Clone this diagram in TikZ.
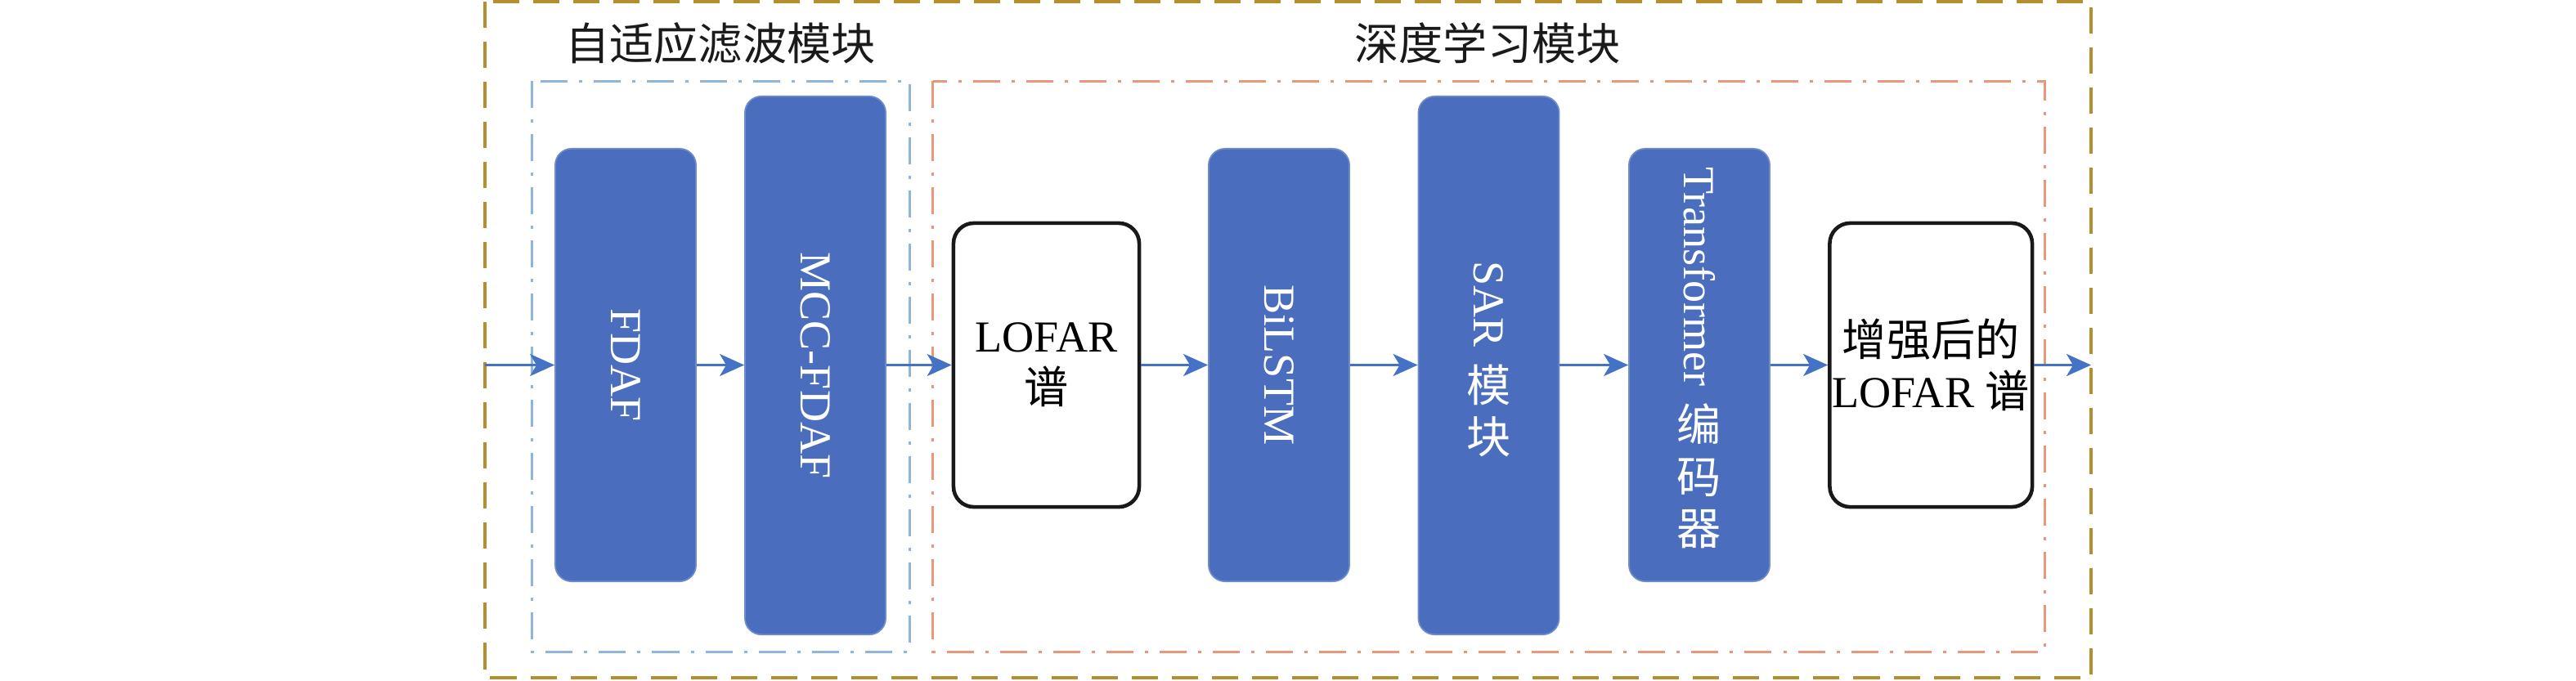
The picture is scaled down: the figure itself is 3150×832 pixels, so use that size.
\documentclass[tikz,border=0pt]{standalone}
\usepackage{fontspec}
\usepackage{graphicx}
\setmainfont{Liberation Serif}
\newfontfamily\cjk{Noto Sans CJK SC}
\usetikzlibrary{arrows.meta}
\definecolor{boxblue}{HTML}{4A6EBD}
\definecolor{arrowblue}{HTML}{4472C4}
\definecolor{outergold}{HTML}{B58E2E}
\definecolor{filterblue}{HTML}{8FB5DA}
\definecolor{dlorange}{HTML}{E9967A}
\definecolor{titlegray}{HTML}{1A1A1A}
\begin{document}
\begin{tikzpicture}[x=0.01cm,y=-0.01cm,
  txt/.style={font=\fontsize{15.4}{18}\selectfont},
  bluebox/.style={txt, draw=boxblue!80!white, line width=0.5pt, fill=boxblue,
    rounded corners=0.2cm, minimum width=1.72cm, text=white, inner sep=0pt, align=center},
  shortbox/.style={bluebox, minimum height=5.29cm},
  tallbox/.style={bluebox, minimum height=6.58cm},
  boxtext/.style={txt, text=white, inner sep=0pt, align=center},
  specbox/.style={txt, draw=black!90, line width=1.3pt, fill=white, rounded corners=0.25cm,
    minimum height=3.47cm, inner sep=0pt, align=center},
  flow/.style={draw=arrowblue, line width=0.8pt, -{Stealth[length=0.3cm,width=0.27cm,inset=0.08cm]}},
  outerframe/.style={draw=outergold, line width=1pt, dash pattern=on 0.32cm off 0.17cm},
  filterframe/.style={draw=filterblue, line width=0.85pt, dash pattern=on 0.33cm off 0.14cm on 0.04cm off 0.14cm},
  dlframe/.style={draw=dlorange, line width=0.85pt, dash pattern=on 0.33cm off 0.14cm on 0.04cm off 0.14cm},
  title/.style={txt, text=titlegray, inner sep=0pt}
]
\useasboundingbox (0,0) rectangle (3150,832);

% frames
\draw[outerframe] (593,2) rectangle (2557,829);
\draw[filterframe] (650,99) rectangle (1112,797);
\draw[dlframe] (1140.5,99) rectangle (2500,797);

% titles
\node[title] (t1) at (881,53) {\cjk 自适应滤波模块};
\node[title] (t2) at (1819,53) {\cjk 深度学习模块};

% blocks
\node[shortbox] (fdaf) at (765,446.5) {\rotatebox{-90}{FDAF}};
\node[tallbox] (mcc) at (997,447) {\rotatebox{-90}{MCC-FDAF}};
\node[specbox, minimum width=2.27cm] (lofar) at (1279.5,446.5) {LOFAR\\{\cjk 谱}};
\node[shortbox] (bilstm) at (1564,446.5) {\rotatebox{-90}{BiLSTM}};
\node[tallbox] (sar) at (1820.5,447) {};
\node[boxtext] (sartext) at ([yshift=0.08cm]sar.center) {\rotatebox{-90}{SAR}\\[5pt]{\cjk 模}\\{\cjk 块}};
\node[shortbox] (trans) at (2078,446.5) {};
\node[boxtext] (transtext) at ([yshift=0.09cm]trans.center) {\rotatebox{-90}{Transformer}\\[5pt]{\cjk 编}\\{\cjk 码}\\{\cjk 器}};
\node[specbox, minimum width=2.475cm] (enh) at (2361.25,446.5) {{\cjk 增强后的}\\LOFAR {\cjk 谱}};

% connectors
\coordinate (in) at (593,446.5);
\coordinate (out) at (2557,446.5);
\draw[flow] (in) -- (fdaf.west);
\draw[flow] (fdaf.east) -- (fdaf.east -| mcc.west);
\draw[flow] (mcc.east |- lofar.west) -- (lofar.west);
\draw[flow] (lofar.east) -- (bilstm.west);
\draw[flow] (bilstm.east) -- (bilstm.east -| sar.west);
\draw[flow] (sar.east |- trans.west) -- (trans.west);
\draw[flow] (trans.east) -- (enh.west);
\draw[flow] (enh.east) -- (out);
\end{tikzpicture}
\end{document}
